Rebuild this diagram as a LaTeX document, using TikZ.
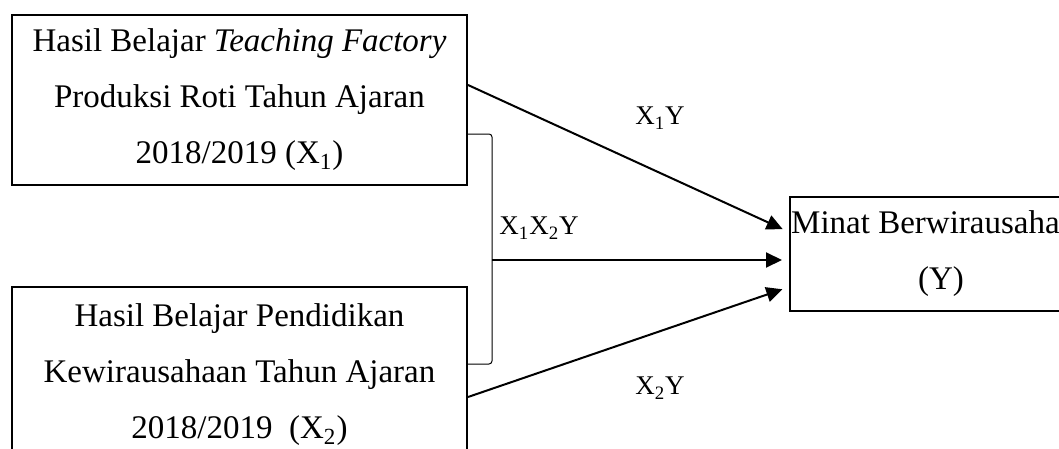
\documentclass[tikz,border=0pt]{standalone}
\usepackage{fontspec}
\setmainfont{Liberation Serif}
\usetikzlibrary{arrows.meta}

\tikzset{
  varbox/.style={draw, line width=1pt, rectangle, inner sep=0pt, align=center,
    font=\fontsize{16.5pt}{28pt}\selectfont},
  path arrow/.style={line width=1pt, -{Triangle[length=8pt,width=7.5pt]}, shorten >=3.5pt},
  joint/.style={line width=0.5pt, rounded corners=1.5pt},
  pathlabel/.style={font=\fontsize{13.5pt}{16pt}\selectfont, inner sep=0pt}
}

\begin{document}
\begin{tikzpicture}[x=0.5pt, y=-0.5pt]
  \useasboundingbox (0,0) rectangle (1059,449);
  \clip (0,0) rectangle (1059,449);

  % independent variables
  \node[varbox, minimum width=227.5pt, minimum height=85pt] (b1) at (239.5,100)
    {Hasil Belajar \textit{Teaching Factory}\\Produksi Roti Tahun Ajaran\\2018/2019 (X\textsubscript{1})};
  \node[varbox, minimum width=227.5pt, minimum height=88pt] (b2) at (239.5,375)
    {Hasil Belajar Pendidikan\\Kewirausahaan Tahun Ajaran\\2018/2019\ \ (X\textsubscript{2})};

  % dependent variable
  \node[varbox, minimum width=151pt, minimum height=57pt] (y) at (941,254)
    {Minat Berwirausahaan\\(Y)};

  % joint effect bracket
  \coordinate (jt) at ([yshift=-17pt]b1.east);
  \coordinate (jb) at ([yshift=5.5pt]b2.east);
  \coordinate (jm) at (492,260);
  \draw[joint] (jt) -- (jt -| jm) -- (jb -| jm) -- (jb);

  % paths
  \draw[path arrow] ([yshift=7.5pt]b1.east) -- ([yshift=11pt]y.west);
  \draw[path arrow] (jm) -- (jm -| y.west);
  \draw[path arrow] ([yshift=-11pt]b2.east) -- ([yshift=-16.5pt]y.west);

  % path labels
  \node[pathlabel] (l1) at (660,118) {X\textsubscript{1}Y};
  \node[pathlabel] (l12) at (539,228) {X\textsubscript{1}X\textsubscript{2}Y};
  \node[pathlabel] (l2) at (660,388) {X\textsubscript{2}Y};
\end{tikzpicture}
\end{document}
